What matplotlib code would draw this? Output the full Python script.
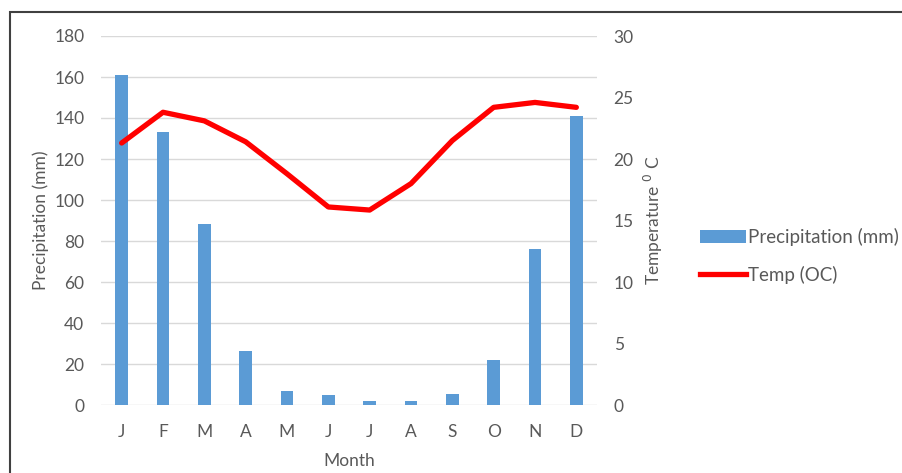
import matplotlib
matplotlib.use("Agg")
import matplotlib.pyplot as plt
from matplotlib.patches import Rectangle
from matplotlib.lines import Line2D
from matplotlib.patches import Patch

months = ["J", "F", "M", "A", "M", "J", "J", "A", "S", "O", "N", "D"]
precip = [161, 133, 88.5, 26.3, 6.8, 4.7, 1.8, 1.8, 5.2, 21.8, 76, 141]
temp = [21.3, 23.8, 23.1, 21.4, 18.8, 16.1, 15.85, 18.0, 21.5, 24.2, 24.6, 24.2]
precip_ticks = [0, 20, 40, 60, 80, 100, 120, 140, 160, 180]
temp_ticks = [0, 5, 10, 15, 20, 25, 30]

plt.rcParams['font.family'] = ['Lato', 'DejaVu Sans']
gray = '#595959'

W, H = 903, 473
fig = plt.figure(figsize=(W/100, H/100), dpi=100)
fig.patch.set_facecolor('white')

# frame around chart
fig.add_artist(Rectangle((10/W, -0.05), 1.0, (H-12)/H + 0.05, transform=fig.transFigure,
                         fill=False, edgecolor='#404040', linewidth=1.5))

left, right, top, bottom = 101, 597, 36, 405
ax = fig.add_axes([left/W, 1-bottom/H, (right-left)/W, (bottom-top)/H])
ax2 = ax.twinx()

x = list(range(len(months)))
ax.bar(x, precip, width=0.31, color='#5B9BD5', zorder=3)
ax.set_xlim(-0.5, 11.5)
ax.set_ylim(0, 180)
ax.set_yticks(precip_ticks)
ax.set_xticks(x)
ax.set_xticklabels(months)
ax.grid(axis='y', color='#D9D9D9', linewidth=1, zorder=0)
ax.set_axisbelow(True)
for s in ax.spines.values():
    s.set_visible(False)
for s in ax2.spines.values():
    s.set_visible(False)
ax.tick_params(axis='both', length=0, labelsize=12.5, colors=gray)
ax.tick_params(axis='x', pad=14)
ax.tick_params(axis='y', pad=12)
ax.set_ylabel('Precipitation (mm)', fontsize=12.5, color=gray, labelpad=4)
ax.set_xlabel('Month', fontsize=12.5, color=gray, labelpad=9)

ax2.plot(x, temp, color='#FF0000', linewidth=3.8, solid_joinstyle='round',
         solid_capstyle='round', zorder=4)
ax2.set_ylim(0, 30)
ax2.set_yticks(temp_ticks)
ax2.tick_params(axis='y', length=0, labelsize=12.5, colors=gray, pad=12)
ax2.set_ylabel('Temperature $^{0}$ C', fontsize=12.5, color=gray, labelpad=6)

handles = [Patch(facecolor='#5B9BD5', edgecolor='none'),
           Line2D([0], [0], color='#FF0000', linewidth=3.8)]
leg = fig.legend(handles, ['Precipitation (mm)', 'Temp (OC)'],
                 loc='center left', bbox_to_anchor=(700/W, 1-256/H),
                 frameon=False, fontsize=13.5, handlelength=2.45, handletextpad=0.1,
                 labelspacing=1.05, borderpad=0, borderaxespad=0, labelcolor=gray)

fig.savefig('out.png', dpi=100)
